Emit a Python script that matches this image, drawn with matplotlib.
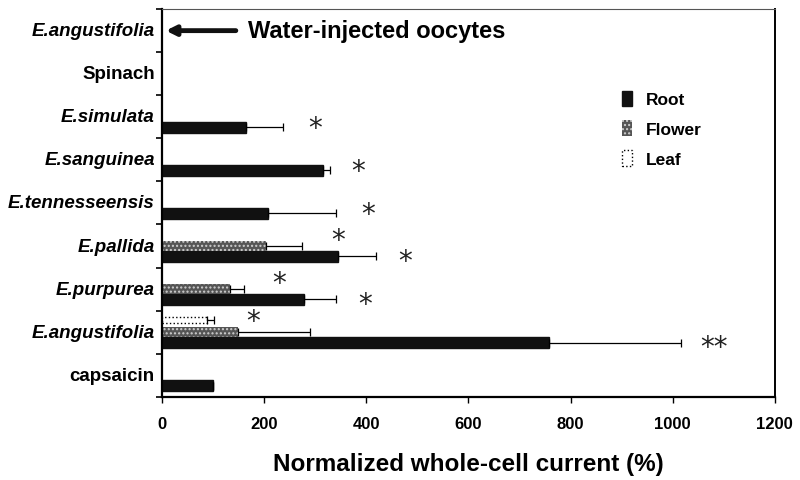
import numpy as np
import matplotlib
matplotlib.use("Agg")
import matplotlib.pyplot as plt

# rows from bottom to top
categories = ["capsaicin", "E.angustifolia", "E.purpurea", "E.pallida",
              "E.tennesseensis", "E.sanguinea", "E.simulata", "Spinach",
              "E.angustifolia"]
italic = [False, True, True, True, True, True, True, False, True]

# value, error (np.nan = no bar)
root = [100, 757, 278, 345, 208, 315, 164, np.nan, np.nan]
root_err = [0, 259, 62, 75, 132, 14, 73, 0, 0]
flower = [np.nan, 149, 133, 203, np.nan, np.nan, np.nan, np.nan, np.nan]
flower_err = [0, 141, 28, 71, 0, 0, 0, 0, 0]
leaf = [np.nan, 88, np.nan, np.nan, np.nan, np.nan, np.nan, np.nan, np.nan]
leaf_err = [0, 14, 0, 0, 0, 0, 0, 0, 0]

# significance marks: (x, row, offset, text)
stars = [(300, 6, 0.25, "*"), (384, 5, 0.25, "*"), (404, 4, 0.25, "*"),
         (345, 3, -0.15, "*"), (476, 3, 0.35, "*"),
         (229, 2, -0.15, "*"), (397, 2, 0.35, "*"),
         (179, 1, -0.25, "*"), (1080, 1, 0.35, "**")]

fig = plt.figure(figsize=(8, 4.81), dpi=100)
ax = fig.add_axes([0.2025, 0.173, 0.766, 0.806])

y = np.arange(len(categories))
h = 0.26
ekw = dict(elinewidth=0.9, capsize=3, capthick=0.9, ecolor="black")

def draw(vals, errs, off, height, **kw):
    v = np.array(vals, dtype=float)
    e = np.array(errs, dtype=float)
    m = ~np.isnan(v)
    ax.barh(y[m] - off, v[m], height=height, xerr=[np.zeros(m.sum()), e[m]],
            error_kw=ekw, **kw)

draw(root, root_err, 0.24, h, color="#111111", edgecolor="#111111",
     label="Root")
draw(flower, flower_err, 0.0, 0.23, facecolor="#555555", edgecolor="#cfcfcf",
     hatch="....", linewidth=0, label="Flower")
draw(leaf, leaf_err, -0.29, 0.14, facecolor="white", edgecolor="black",
     linestyle=":", linewidth=1.0, label="Leaf")

for x, row, off, txt in stars:
    ax.text(x, row - off, txt, fontsize=20, ha="center", va="center",
            color="#222222")

ax.set_xlim(0, 1200)
ax.set_ylim(-0.5, len(categories) - 0.5)
ax.set_xticks(np.arange(0, 1201, 200))
ax.set_xticklabels([str(v) for v in range(0, 1201, 200)],
                   fontsize=12, fontweight="bold", family="Liberation Sans")
ax.set_yticks(y)
ax.set_yticklabels([])
ax.tick_params(axis="y", length=0)
ax.set_yticks(np.arange(-0.5, len(categories)), minor=True)
ax.tick_params(axis="y", which="minor", length=4, width=1.2, direction="out")
ax.tick_params(axis="x", length=4, width=1.0, pad=10)

for yy, name, it in zip(y, categories, italic):
    ax.text(-14, yy, name, ha="right", va="center", fontsize=13.5,
            fontweight="bold", fontstyle="italic" if it else "normal",
            family="Liberation Sans", transform=ax.transData)

ax.set_xlabel("Normalized whole-cell current (%)", fontsize=17.5,
              fontweight="bold", family="Liberation Sans", labelpad=15)

for s in ["left", "bottom"]:
    ax.spines[s].set_linewidth(1.6)
ax.spines["right"].set_linewidth(1.4)
ax.spines["top"].set_linewidth(0.8)
ax.spines["top"].set_color("#555555")

ax.annotate("", xy=(2, 8), xytext=(150, 8),
            arrowprops=dict(arrowstyle="-|>", lw=3.5, color="#111111",
                            mutation_scale=14))
ax.text(168, 8, "Water-injected oocytes", ha="left", va="center",
        fontsize=17, fontweight="bold", family="Liberation Sans")

leg = ax.legend(loc="upper left", bbox_to_anchor=(0.725, 0.83), frameon=False,
                handlelength=0.6, handleheight=1.0, labelspacing=0.75,
                prop=dict(family="Liberation Sans", weight="bold", size=12.5))

fig.savefig("out.png", dpi=100)
